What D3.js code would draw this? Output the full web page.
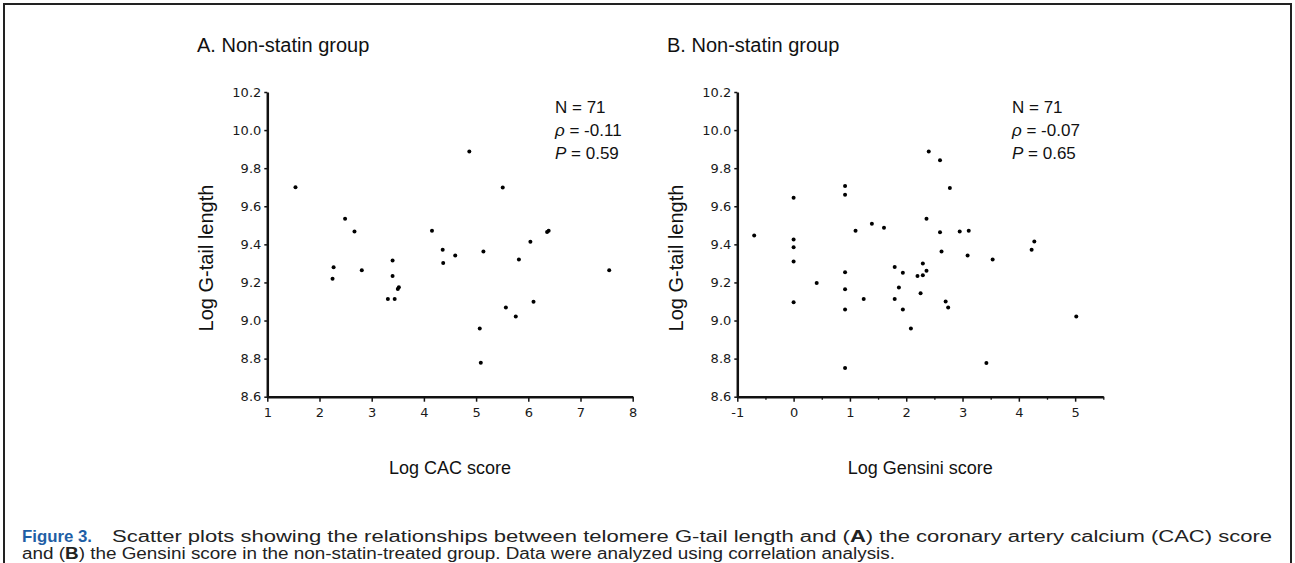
<!DOCTYPE html>
<html>
<head>
<meta charset="utf-8">
<script src="https://cdn.jsdelivr.net/npm/d3@7"></script>
<style>
body { margin: 0; background: #fff; }
svg text { font-family: "Liberation Sans", Arial, sans-serif; fill: #111; }
</style>
</head>
<body>
<svg width="1295" height="563"></svg>
<script>
// values
var cacX = [1.54, 2.25, 2.27, 2.49, 2.67, 2.81, 3.31, 3.40, 3.40, 3.44, 3.50, 3.52, 4.155, 4.36, 4.37, 4.60, 4.87, 5.07, 5.09, 5.14, 5.51, 5.57, 5.76, 5.82, 6.04, 6.10, 6.36, 6.39, 7.55];
var cacY = [9.70, 9.22, 9.28, 9.535, 9.467, 9.264, 9.113, 9.315, 9.234, 9.113, 9.165, 9.175, 9.472, 9.371, 9.302, 9.341, 9.887, 8.958, 8.778, 9.362, 9.698, 9.068, 9.021, 9.320, 9.413, 9.098, 9.465, 9.472, 9.264];

var gensiniX = [-0.70, 0, 0, 0, 0, 0, 0.41, 0.914, 0.914, 0.914, 0.914, 0.914, 0.914, 1.10, 1.245, 1.39, 1.605, 1.795, 1.795, 1.87, 1.94, 1.94, 2.083, 2.20, 2.255, 2.295, 2.295, 2.36, 2.36, 2.40, 2.60, 2.60, 2.627, 2.70, 2.745, 2.775, 2.95, 3.11, 3.09, 3.424, 3.535, 4.227, 4.275, 5.02];
var gensiniY = [9.446, 9.645, 9.426, 9.385, 9.310, 9.096, 9.197, 9.707, 9.660, 9.254, 9.164, 9.058, 8.751, 9.472, 9.113, 9.508, 9.487, 9.281, 9.113, 9.173, 9.251, 9.058, 8.958, 9.234, 9.143, 9.299, 9.238, 9.262, 9.535, 9.887, 9.841, 9.463, 9.362, 9.100, 9.068, 9.696, 9.467, 9.472, 9.341, 8.777, 9.320, 9.371, 9.415, 9.021];

var yTicks = [8.6, 8.8, 9.0, 9.2, 9.4, 9.6, 9.8, 10.0, 10.2];
var cacTicks = [1, 2, 3, 4, 5, 6, 7, 8];
var gensiniTicks = [-1, 0, 1, 2, 3, 4, 5];
var gensiniMinor = [-0.5, 0.5, 1.5, 2.5, 3.5, 4.5, 5.5];

var titles = ["A. Non-statin group", "B. Non-statin group"];
var xLabels = ["Log CAC score", "Log Gensini score"];
var yLabel = "Log G-tail length";
var statN = [71, 71];
var statRho = ["-0.11", "-0.07"];
var statP = ["0.59", "0.65"];

var svg = d3.select("svg");

// frame
svg.append("path")
    .attr("d", "M4,563 V4 H1291 V563")
    .attr("fill", "none")
    .attr("stroke", "#222")
    .attr("stroke-width", 2);

var yScale = d3.scaleLinear().domain([8.6, 10.2]).range([396.7, 92]);

var panels = [
    {xs: cacX, ys: cacY, domain: [1, 8], range: [267.3, 632.7], ticks: cacTicks, minor: null, titleX: 197, statX: 555},
    {xs: gensiniX, ys: gensiniY, domain: [-1, 5.5], range: [737.3, 1103.3], ticks: gensiniTicks, minor: gensiniMinor, titleX: 667, statX: 1012}
];

function styleTicks(ax) {
    ax.selectAll(".tick text")
        .attr("font-size", null)
        .style("font-family", "'DejaVu Sans', Verdana, sans-serif")
        .style("font-size", "13px")
        .style("fill", "#1a1a1a");
    ax.selectAll(".tick line").attr("stroke", "#111").attr("stroke-width", 1.5);
}

panels.forEach(function(p, i) {
    var xScale = d3.scaleLinear().domain(p.domain).range(p.range);
    var g = svg.append("g");

    g.append("text")
        .attr("x", p.titleX)
        .attr("y", 52)
        .style("font-size", "20px")
        .text(titles[i]);

    // axes
    var xa = g.append("g")
        .attr("transform", "translate(0," + yScale(8.6) + ")")
        .call(d3.axisBottom(xScale).tickValues(p.ticks).tickSize(5).tickPadding(6).tickSizeOuter(0)
            .tickFormat(function(d) { return String(d); }));
    xa.select(".domain").attr("stroke", "#111").attr("stroke-width", 2.5);
    styleTicks(xa);

    if (p.minor) {
        var mi = g.append("g")
            .attr("transform", "translate(0," + yScale(8.6) + ")")
            .call(d3.axisBottom(xScale).tickValues(p.minor).tickSize(3).tickFormat(""));
        mi.select(".domain").remove();
        mi.selectAll(".tick line").attr("stroke", "#111").attr("stroke-width", 1.3);
    }

    var ya = g.append("g")
        .attr("transform", "translate(" + p.range[0] + ",0)")
        .call(d3.axisLeft(yScale).tickValues(yTicks).tickSize(3).tickPadding(3).tickSizeOuter(0).tickFormat(d3.format(".1f")));
    ya.select(".domain").attr("stroke", "#111").attr("stroke-width", 2.5);
    styleTicks(ya);

    // axis titles
    g.append("text")
        .attr("x", (p.range[0] + p.range[1]) / 2)
        .attr("y", 474)
        .attr("text-anchor", "middle")
        .style("font-size", "18px")
        .text(xLabels[i]);

    g.append("text")
        .attr("transform", "translate(" + (p.range[0] - 54) + ",258) rotate(-90)")
        .attr("text-anchor", "middle")
        .style("font-size", "20px")
        .text(yLabel);

    // stats block
    var st = g.append("g").style("font-size", "17px");
    st.append("text").attr("x", p.statX).attr("y", 113).text("N = " + statN[i]);
    var r = st.append("text").attr("x", p.statX).attr("y", 136);
    r.append("tspan").style("font-style", "italic").text("\u03C1");
    r.append("tspan").text(" = " + statRho[i]);
    var pp = st.append("text").attr("x", p.statX).attr("y", 159);
    pp.append("tspan").style("font-style", "italic").text("P");
    pp.append("tspan").text(" = " + statP[i]);

    // points
    g.selectAll(".dot")
        .data(p.xs.map(function(v, k) { return {x: v, y: p.ys[k]}; }))
        .enter()
        .append("circle")
        .attr("class", "dot")
        .attr("cx", function(d) { return xScale(d.x); })
        .attr("cy", function(d) { return yScale(d.y); })
        .attr("r", 2)
        .attr("fill", "#000");
});

// caption
svg.append("text")
    .attr("x", 22)
    .attr("y", 542)
    .attr("textLength", 70)
    .attr("lengthAdjust", "spacingAndGlyphs")
    .style("font-weight", "900")
    .style("font-size", "17px")
    .style("fill", "#1f5fa6")
    .text("Figure 3.");

var c1 = svg.append("text")
    .attr("x", 112)
    .attr("y", 542)
    .attr("textLength", 1160)
    .attr("lengthAdjust", "spacingAndGlyphs")
    .style("font-size", "16px")
    .style("fill", "#222");
c1.append("tspan").text("Scatter plots showing the relationships between telomere G-tail length and (");
c1.append("tspan").style("font-weight", "bold").text("A");
c1.append("tspan").text(") the coronary artery calcium (CAC) score");

var c2 = svg.append("text")
    .attr("x", 22)
    .attr("y", 559)
    .attr("textLength", 873)
    .attr("lengthAdjust", "spacingAndGlyphs")
    .style("font-size", "16px")
    .style("fill", "#222");
c2.append("tspan").text("and (");
c2.append("tspan").style("font-weight", "bold").text("B");
c2.append("tspan").text(") the Gensini score in the non-statin-treated group. Data were analyzed using correlation analysis.");
</script>
</body>
</html>
